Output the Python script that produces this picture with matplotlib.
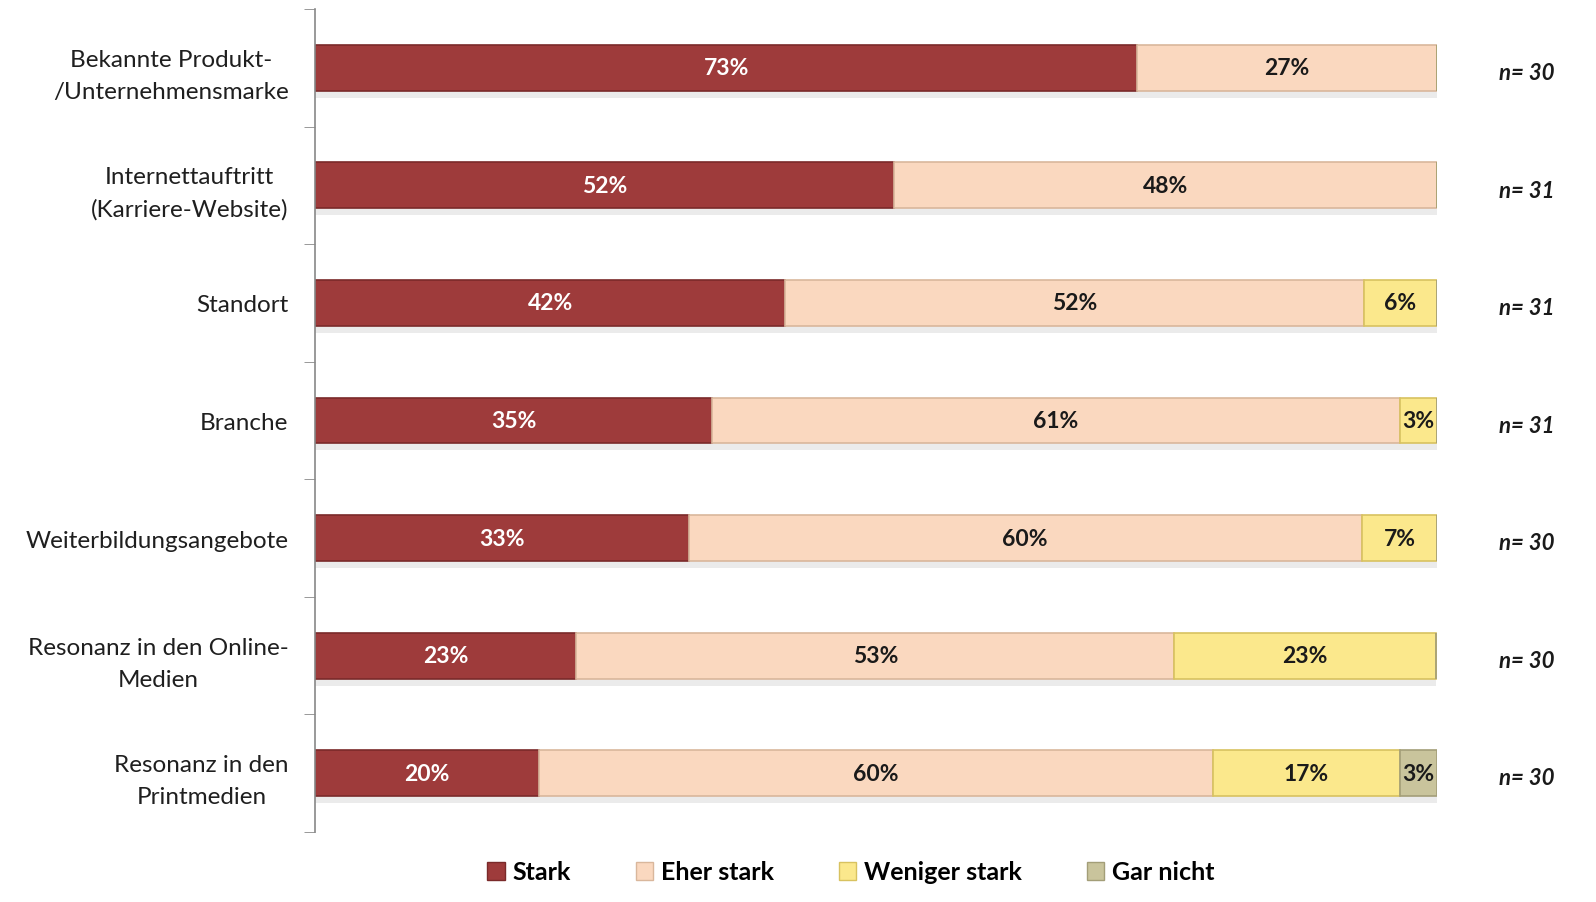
import matplotlib.pyplot as plt
from matplotlib.patches import Patch

plt.rcParams['font.family'] = ['Lato', 'DejaVu Sans']

kategorien = ['Bekannte Produkt-\n/Unternehmensmarke', 'Internettauftritt\n(Karriere-Website)',
              'Standort', 'Branche', 'Weiterbildungsangebote',
              'Resonanz in den Online-\nMedien', 'Resonanz in den\nPrintmedien']
stark = [73.3, 51.6, 41.9, 35.4, 33.3, 23.3, 20.0]
eher_stark = [26.7, 48.4, 51.6, 61.3, 60.0, 53.3, 60.0]
weniger_stark = [0, 0, 6.5, 3.3, 6.7, 23.3, 16.7]
gar_nicht = [0, 0, 0, 0, 0, 0, 3.3]
n_werte = [30, 31, 31, 31, 30, 30, 30]
serien = ['Stark', 'Eher stark', 'Weniger stark', 'Gar nicht']

farben = ['#9e3b3b', '#fad8bf', '#fbe88c', '#c9c49c']
kanten = ['#7a2a2a', '#d9b79c', '#d8c260', '#a39e78']
textfarben = ['white', '#1a1a1a', '#1a1a1a', '#1a1a1a']

fig = plt.figure(figsize=(15.96, 9.03), dpi=100)
ax = fig.add_axes([315 / 1596, 1 - 833 / 903, 1122 / 1596, 823 / 903])

y = list(range(len(kategorien)))
h = 0.39
links = [0] * len(kategorien)
for werte, farbe, kante, tf in zip([stark, eher_stark, weniger_stark, gar_nicht], farben, kanten, textfarben):
    # Schatten
    ax.barh([i + 0.06 for i in y], werte, left=links, height=h, color='#000000', alpha=0.08, zorder=1)
    ax.barh(y, werte, left=links, height=h, color=farbe, edgecolor=kante, linewidth=1.2, zorder=2)
    for i, w in enumerate(werte):
        if w > 0:
            ax.text(links[i] + w / 2, i, f'{round(w)}%', ha='center', va='center',
                    color=tf, fontsize=16.5, fontweight='bold', zorder=3)
    links = [l + w for l, w in zip(links, werte)]

for i, n in enumerate(n_werte):
    ax.text(108, i + 0.04, f'n= {n}', ha='center', va='center', fontsize=16,
            fontweight='bold', style='italic', color='#1a1a1a', clip_on=False)

ax.set_xlim(0, 100)
ax.set_ylim(6.5, -0.5)
ax.set_yticks(y)
ax.set_yticklabels(kategorien, fontsize=17.5, color='#1f1f1f', linespacing=1.65,
                   multialignment='center')
ax.set_yticks([i - 0.5 for i in range(len(kategorien) + 1)], minor=True)
ax.tick_params(axis='y', which='major', length=0, pad=19)
ax.tick_params(axis='y', which='minor', length=8, color='#888888', direction='out')
ax.set_xticks([])
for s in ['top', 'right', 'bottom']:
    ax.spines[s].set_visible(False)
ax.spines['left'].set_color('#888888')
ax.spines['left'].set_linewidth(1.2)

handles = [Patch(facecolor=f, edgecolor=k) for f, k in zip(farben, kanten)]
fig.legend(handles, serien, loc='center', bbox_to_anchor=(0.533, 1 - 873 / 903), ncol=4,
           frameon=False, prop={'weight': 'bold', 'size': 18},
           handlelength=0.7, handleheight=0.7, handletextpad=0.3, columnspacing=2.6)

fig.savefig('out.png', dpi=100)
